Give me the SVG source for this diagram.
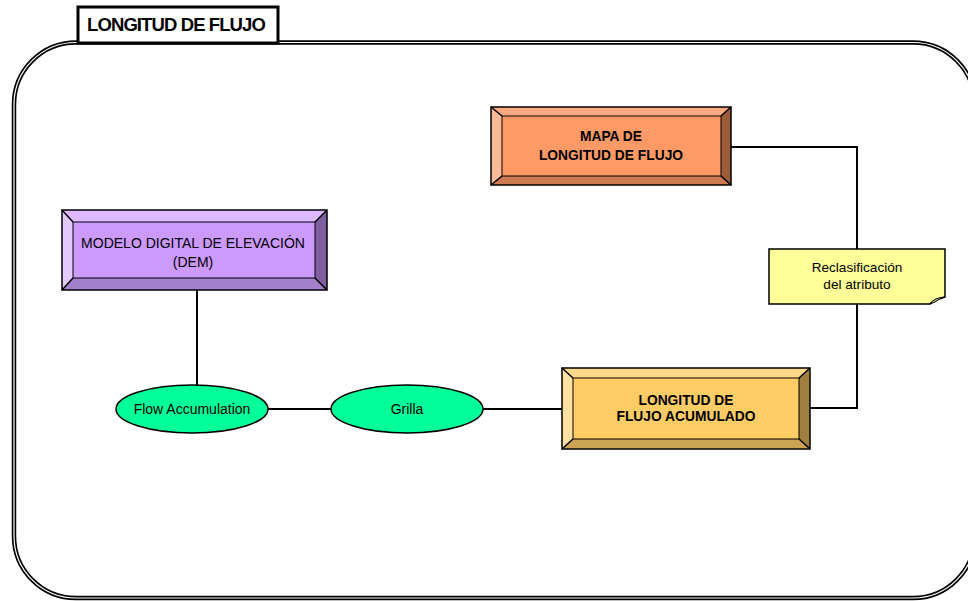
<svg xmlns="http://www.w3.org/2000/svg" width="968" height="601" viewBox="0 0 968 601">
  <style>
    .wire { fill: none; stroke: #000; stroke-width: 2; }
    .edge { stroke: #000; stroke-width: 1.5; }
    .lbl { font-family: "Liberation Sans", Arial, sans-serif; font-size: 14px; fill: #000; text-anchor: middle; }
    .bold { font-weight: bold; font-size: 13.8px; }
    .oval { fill: #00FF99; stroke: #000; stroke-width: 1.5; }
  </style>

  <rect width="968" height="601" fill="#fff"/>

  <!-- outer frame: double rounded border -->
  <g id="frame">
    <rect x="14" y="42.5" width="961" height="555.5" rx="62" ry="62" fill="none" stroke="#000" stroke-width="4.5"/>
    <rect x="14" y="42.5" width="961" height="555.5" rx="62" ry="62" fill="none" stroke="#fff" stroke-width="1.2"/>
  </g>

  <!-- title tab -->
  <g id="title">
    <rect x="78" y="7" width="200" height="36" fill="#fff" stroke="#000" stroke-width="3"/>
    <text x="176" y="31" class="lbl bold" style="font-size:18.5px; letter-spacing:-0.9px">LONGITUD DE FLUJO</text>
  </g>

  <!-- connectors -->
  <g id="connectors">
    <line class="wire" x1="197" y1="290" x2="197" y2="385"/>
    <line class="wire" x1="268" y1="409" x2="331" y2="409"/>
    <line class="wire" x1="483" y1="409" x2="562" y2="409"/>
    <polyline class="wire" points="810,408 857,408 857,304"/>
    <polyline class="wire" points="857,249 857,147 731,147"/>
  </g>

  <!-- DEM -->
  <g id="dem">
    <polygon points="62,210 327,210 315,222 73,222" fill="#DDB8FF"/>
    <polygon points="62,210 73,222 73,278 62,290" fill="#E3C8FF"/>
    <polygon points="327,210 327,290 315,278 315,222" fill="#7F5FA0"/>
    <polygon points="62,290 73,278 315,278 327,290" fill="#A47FCC"/>
    <rect x="73" y="222" width="242" height="56" fill="#CC99FF" stroke="#000" stroke-width="1"/>
    <rect x="62" y="210" width="265" height="80" fill="none" stroke="#000" stroke-width="1.5"/>
    <line class="edge" x1="62" y1="210" x2="73" y2="222"/>
    <line class="edge" x1="327" y1="210" x2="315" y2="222"/>
    <line class="edge" x1="62" y1="290" x2="73" y2="278"/>
    <line class="edge" x1="327" y1="290" x2="315" y2="278"/>
    <text class="lbl" x="193" y="248">MODELO DIGITAL DE ELEVACIÓN</text>
    <text class="lbl" x="193" y="267">(DEM)</text>
  </g>

  <!-- Flow Accumulation -->
  <g id="flow-accumulation">
    <ellipse class="oval" cx="192" cy="409" rx="76" ry="24"/>
    <text class="lbl" x="192" y="414">Flow Accumulation</text>
  </g>

  <!-- Grilla -->
  <g id="grilla">
    <ellipse class="oval" cx="407" cy="409" rx="76" ry="24"/>
    <text class="lbl" x="407" y="414">Grilla</text>
  </g>

  <!-- accumulated flow length -->
  <g id="longitud-acumulado">
    <polygon points="562,368 810,368 799,378 573,378" fill="#FFD98A"/>
    <polygon points="562,368 573,378 573,439 562,449" fill="#FFE0A0"/>
    <polygon points="810,368 810,449 799,439 799,378" fill="#9F7F40"/>
    <polygon points="562,449 573,439 799,439 810,449" fill="#CCA352"/>
    <rect x="573" y="378" width="226" height="61" fill="#FFCC66" stroke="#000" stroke-width="1"/>
    <rect x="562" y="368" width="248" height="81" fill="none" stroke="#000" stroke-width="1.5"/>
    <line class="edge" x1="562" y1="368" x2="573" y2="378"/>
    <line class="edge" x1="810" y1="368" x2="799" y2="378"/>
    <line class="edge" x1="562" y1="449" x2="573" y2="439"/>
    <line class="edge" x1="810" y1="449" x2="799" y2="439"/>
    <text class="lbl bold" x="686" y="405">LONGITUD DE</text>
    <text class="lbl bold" x="686" y="421">FLUJO ACUMULADO</text>
  </g>

  <!-- reclassification note -->
  <g id="reclasificacion">
    <path d="M769,249 H945 V297 Q935,299 930,304 H769 Z" fill="#FFFF99" stroke="#000" stroke-width="1.5"/>
    <path d="M930,304 Q933,298 945,297 Q937,300 935,302 Z" fill="#C8C870" stroke="#000" stroke-width="1"/>
    <text class="lbl" style="font-size:13.6px" x="857" y="272">Reclasificación</text>
    <text class="lbl" style="font-size:13.6px" x="857" y="289">del atributo</text>
  </g>

  <!-- flow length map -->
  <g id="mapa-longitud">
    <polygon points="491,107 731,107 721,116 502,116" fill="#FFAA80"/>
    <polygon points="491,107 502,116 502,176 491,185" fill="#FFBB99"/>
    <polygon points="731,107 731,185 721,176 721,116" fill="#9F5C3A"/>
    <polygon points="491,185 502,176 721,176 731,185" fill="#CC7A52"/>
    <rect x="502" y="116" width="219" height="60" fill="#FF9966" stroke="#000" stroke-width="1"/>
    <rect x="491" y="107" width="240" height="78" fill="none" stroke="#000" stroke-width="1.5"/>
    <line class="edge" x1="491" y1="107" x2="502" y2="116"/>
    <line class="edge" x1="731" y1="107" x2="721" y2="116"/>
    <line class="edge" x1="491" y1="185" x2="502" y2="176"/>
    <line class="edge" x1="731" y1="185" x2="721" y2="176"/>
    <text class="lbl bold" x="611" y="141">MAPA DE</text>
    <text class="lbl bold" x="611" y="160">LONGITUD DE FLUJO</text>
  </g>
</svg>
